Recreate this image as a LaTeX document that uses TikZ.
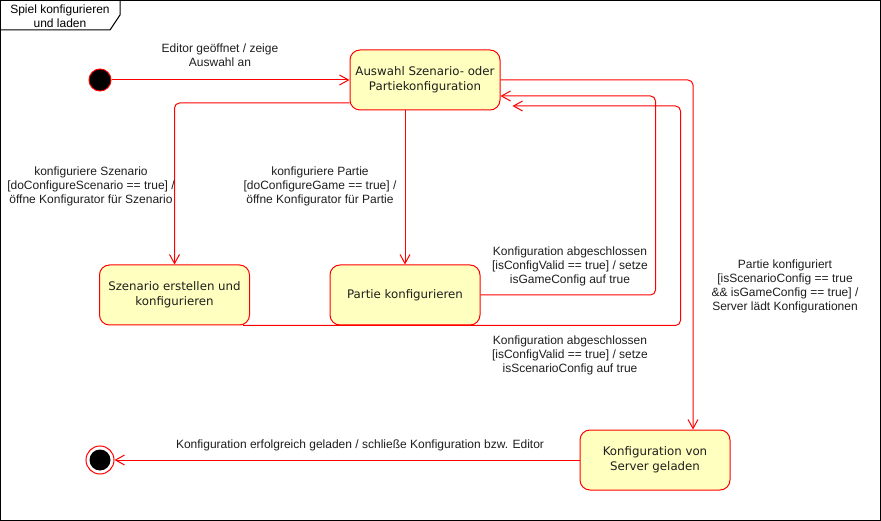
\documentclass[tikz,border=0pt]{standalone}
\usepackage{fontspec}
\setmainfont{Liberation Sans}
\newfontfamily\statefont{DejaVu Sans}
\usetikzlibrary{arrows.meta}
\definecolor{statefill}{RGB}{255, 255, 192}
\definecolor{stateline}{RGB}{255, 0, 0}
\definecolor{statetext}{RGB}{30, 30, 30}
\definecolor{labelcolor}{RGB}{30, 30, 30}
\tikzset{
statebox/.style={
  draw=stateline,
  fill=statefill,
  line width=1pt,
  rounded corners=10pt,
  minimum height=60pt,
  minimum width=150pt,
  align=center,
  inner sep=2pt,
  text=statetext,
  font=\statefont\fontsize{11.8}{15}\selectfont
},
startdot/.style={
  circle,
  draw=stateline,
  fill=black,
  line width=1pt,
  minimum size=22pt,
  inner sep=0pt
},
endring/.style={
  circle,
  draw=stateline,
  fill=white,
  line width=1pt,
  minimum size=28pt,
  inner sep=0pt
},
enddot/.style={
  circle,
  fill=black,
  minimum size=21pt,
  inner sep=0pt
},
edgelabel/.style={
  align=center,
  inner sep=0pt,
  text=labelcolor,
  font=\fontsize{12}{14}\selectfont
},
transition/.style={
  draw=stateline,
  line width=1pt,
  rounded corners=5pt,
  -{Straight Barb[length=9pt,width=10pt]}
},
framebox/.style={
  draw=black,
  line width=1pt
}
}
\begin{document}
\begin{tikzpicture}[x=1pt,y=-1pt]
\useasboundingbox (0,0) rectangle (881,521);
% frame with title tab
\draw[framebox] (0.5,0.5) rectangle (880.5,520.5);
\draw[framebox] (120,0.5) -- (120,15) -- (110,30) -- (0.5,30);
\node[edgelabel, text=black] (titel) at (60,16) {Spiel konfigurieren\\und laden};

% states
\node[startdot] (start) at (100,80) {};
\node[statebox] (auswahl) at (425,80) {Auswahl Szenario- oder\\Partiekonfiguration};
\node[statebox] (szenario) at (174.5,295) {Szenario erstellen und\\konfigurieren};
\node[statebox] (partie) at (405,295) {Partie konfigurieren};
\node[statebox] (server) at (655,460) {Konfiguration von\\Server geladen};
\node[endring] (ende) at (100,460) {};
\node[enddot] (endedot) at (ende) {};

% transitions
\draw[transition] (start) -- (auswahl);
\draw[transition] ([yshift=-23pt]auswahl.west) -| (szenario);
\draw[transition] (auswahl.south -| partie.north) -- (partie);
\draw[transition] (partie.east) -- ++(175,0) |- ([yshift=-16pt]auswahl.east);
\draw[transition] ([xshift=-7pt]szenario.south east) -- ++(437.5,0) |- ([xshift=12pt,yshift=-26pt]auswahl.east);
\draw[transition] (auswahl.east) -| ([xshift=38pt]server.north);
\draw[transition] (server) -- (ende);

% labels
\node[edgelabel] (l1) at (220,55) {Editor geöffnet / zeige\\Auswahl an};
\node[edgelabel] (l2) at (91,186) {konfiguriere Szenario\\{}[doConfigureScenario == true] /\\öffne Konfigurator für Szenario};
\node[edgelabel] (l3) at (320,186) {konfiguriere Partie\\{}[doConfigureGame == true] /\\öffne Konfigurator für Partie};
\node[edgelabel] (l4) at (570,266) {Konfiguration abgeschlossen\\{}[isConfigValid == true] / setze\\isGameConfig auf true};
\node[edgelabel] (l5) at (570,355) {Konfiguration abgeschlossen\\{}[isConfigValid == true] / setze\\isScenarioConfig auf true};
\node[edgelabel] (l6) at (785,286) {Partie konfiguriert\\{}[isScenarioConfig == true\\\&\& isGameConfig == true] /\\Server lädt Konfigurationen};
\node[edgelabel] (l7) at (360,445) {Konfiguration erfolgreich geladen / schließe Konfiguration bzw. Editor};
\end{tikzpicture}
\end{document}
